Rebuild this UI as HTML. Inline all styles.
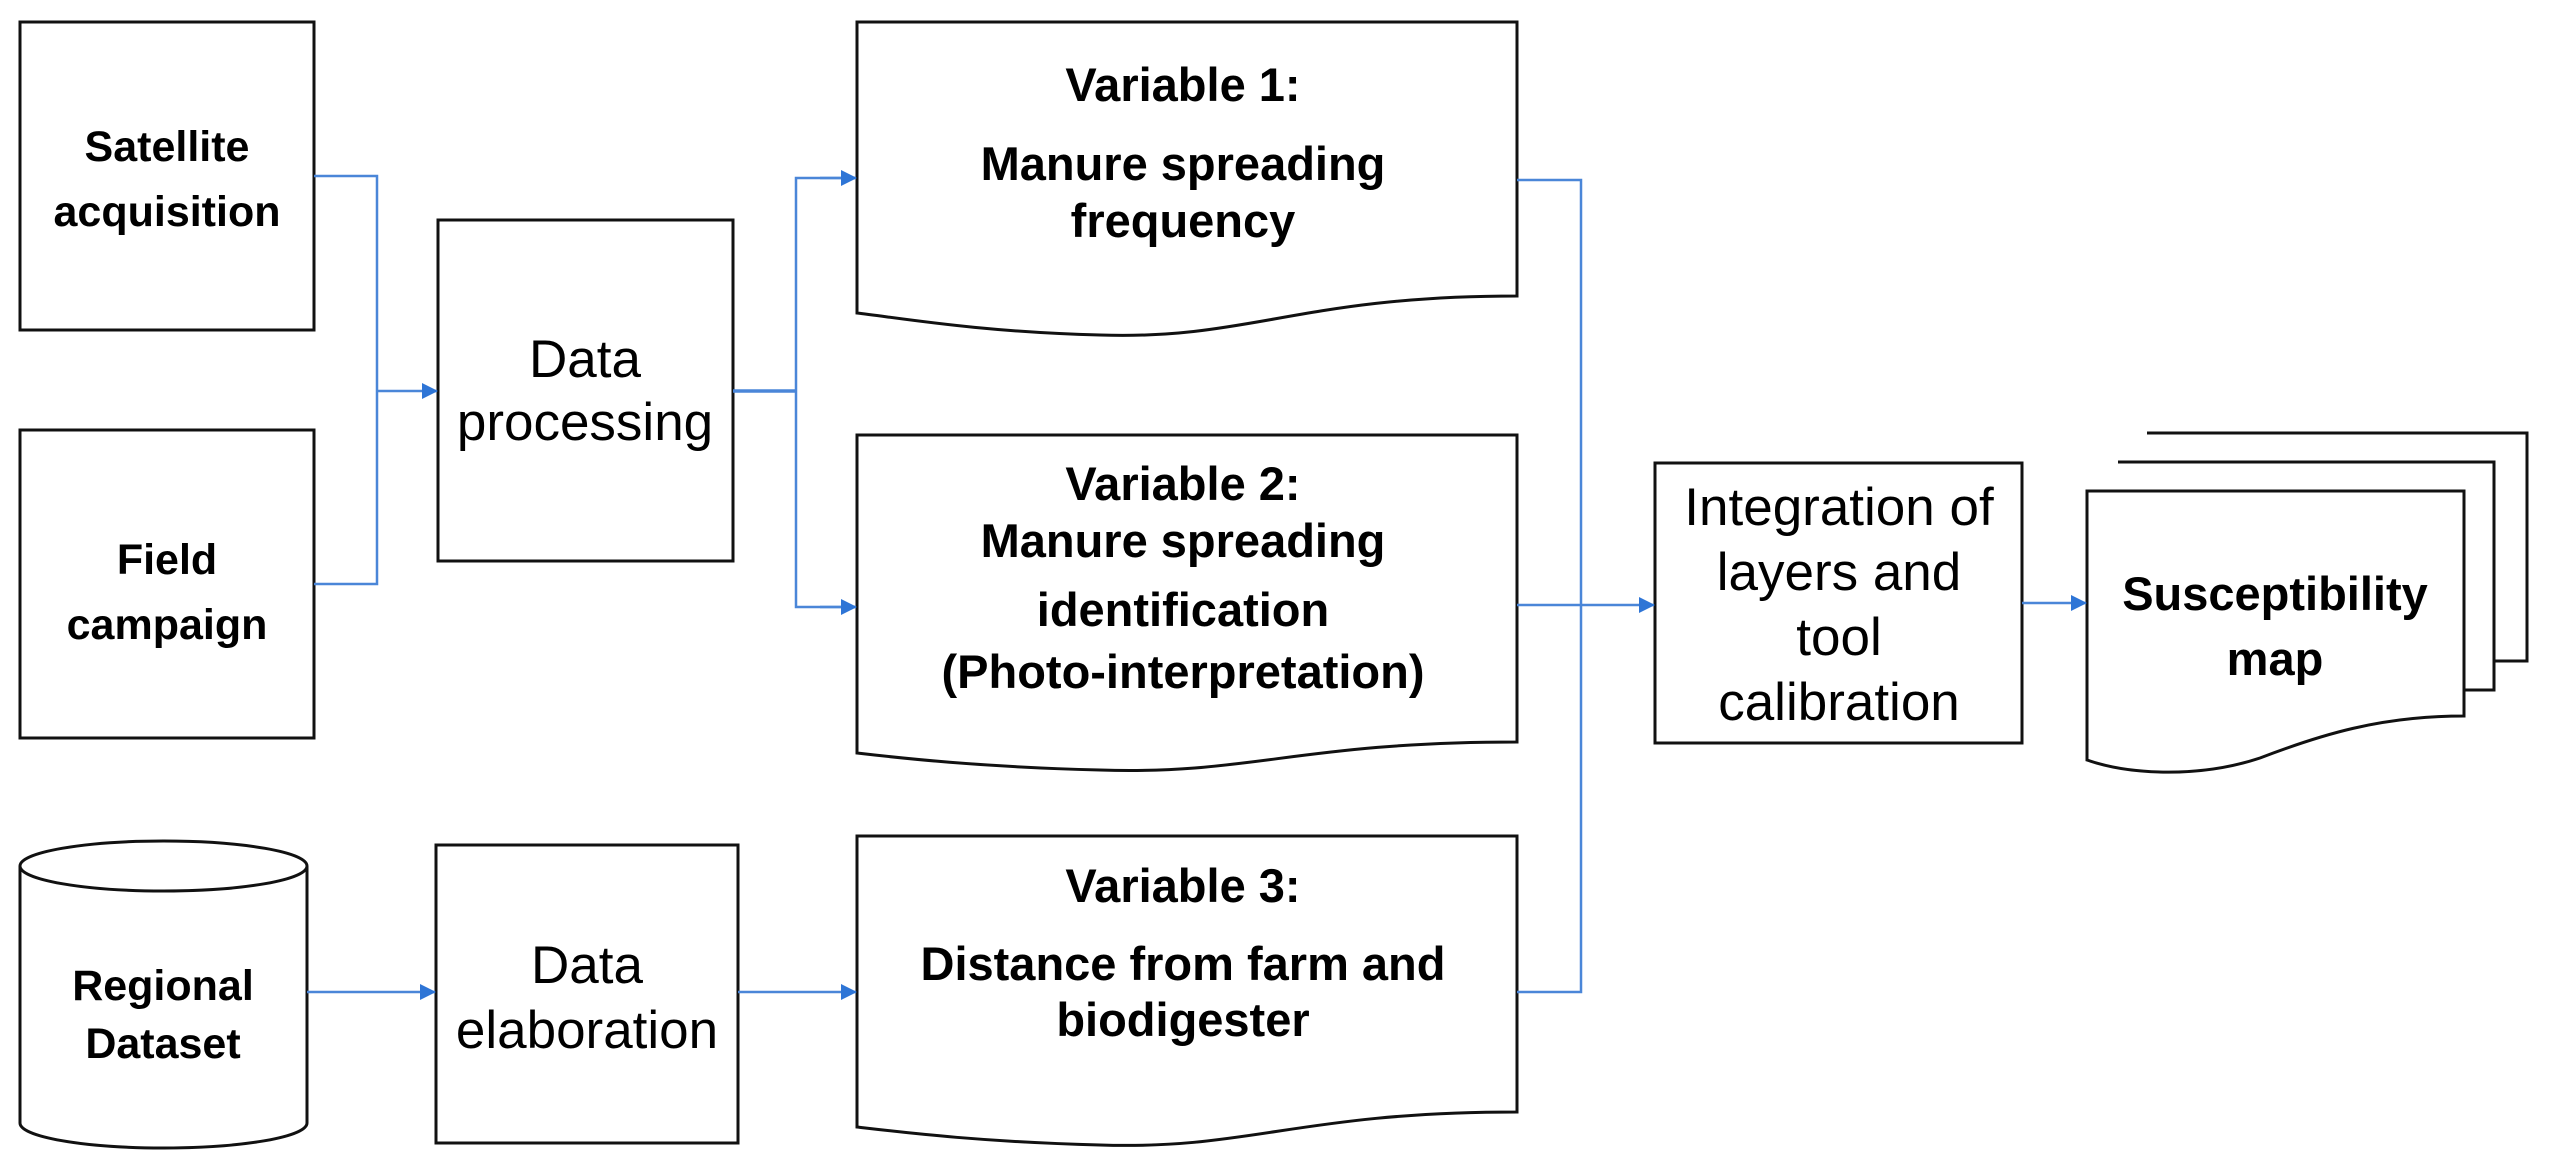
<!DOCTYPE html>
<html><head><meta charset="utf-8"><style>
html,body{margin:0;padding:0;background:#fff;}
svg{display:block;}
.b{font-family:"Liberation Sans",sans-serif;font-weight:bold;font-size:43px;fill:#000;}
.v{font-family:"Liberation Sans",sans-serif;font-weight:bold;font-size:47px;fill:#000;}
.r{font-family:"Liberation Sans",sans-serif;font-size:53px;fill:#000;}
</style></head><body>
<svg width="2556" height="1171" viewBox="0 0 2556 1171" xmlns="http://www.w3.org/2000/svg">
<defs>
<marker id="a" markerWidth="16" markerHeight="16" refX="15" refY="8" orient="auto" markerUnits="userSpaceOnUse">
<path d="M0,0 L16,8 L0,16 z" fill="#2e75d6"/>
</marker>
</defs>
<g fill="#fff" stroke="#111" stroke-width="3">
<rect x="20" y="22" width="294" height="308"/>
<rect x="20" y="430" width="294" height="308"/>
<rect x="438" y="220" width="295" height="341"/>
<rect x="436" y="845" width="302" height="298"/>
<rect x="1655" y="463" width="367" height="280"/>
<path d="M20,866 L20,1123 A143.5,25 0 0 0 307,1123 L307,866"/>
<ellipse cx="163.5" cy="866" rx="143.5" ry="25"/>
<path d="M857,22 L1517,22 L1517,296 C1300,296 1250,340 1100,335 C980,332 900,318 857,313 Z"/>
<path d="M857,435 L1517,435 L1517,742 C1300,742 1250,775 1100,770 C980,767 900,758 857,753 Z"/>
<path d="M857,836 L1517,836 L1517,1112 C1300,1112 1250,1150 1100,1145 C980,1142 900,1132 857,1127 Z"/>
<path d="M2147,433 L2527,433 L2527,661 L2494,661"/>
<path d="M2118,462 L2494,462 L2494,690 L2464,690"/>
<path d="M2087,491 L2464,491 L2464,716 C2380,716 2320,735 2260,758 C2200,778 2130,775 2087,760 Z"/>
</g>
<g fill="none" stroke="#4a86d8" stroke-width="2.5">
<polyline points="314,176 377,176 377,584 314,584"/>
<line x1="377" y1="391" x2="437" y2="391" marker-end="url(#a)"/>
<line x1="733" y1="391" x2="796" y2="391" stroke-width="3.5"/>
<polyline points="855,178 796,178 796,607 855,607" />
<line x1="820" y1="178" x2="856" y2="178" marker-end="url(#a)"/>
<line x1="820" y1="607" x2="856" y2="607" marker-end="url(#a)"/>
<line x1="307" y1="992" x2="435" y2="992" marker-end="url(#a)"/>
<line x1="738" y1="992" x2="856" y2="992" marker-end="url(#a)"/>
<polyline points="1517,180 1581,180 1581,992 1517,992"/>
<line x1="1517" y1="605" x2="1654" y2="605" marker-end="url(#a)"/>
<line x1="2022" y1="603" x2="2086" y2="603" marker-end="url(#a)"/>
</g>
<g text-anchor="middle">
<text class="b" x="167" y="161">Satellite</text>
<text class="b" x="167" y="226">acquisition</text>
<text class="b" x="167" y="574">Field</text>
<text class="b" x="167" y="639">campaign</text>
<text class="b" x="163" y="1000">Regional</text>
<text class="b" x="163" y="1058">Dataset</text>
<text class="r" x="585" y="377">Data</text>
<text class="r" x="585" y="440">processing</text>
<text class="r" x="587" y="983">Data</text>
<text class="r" x="587" y="1048">elaboration</text>
<text class="v" x="1183" y="101">Variable 1:</text>
<text class="v" x="1183" y="180">Manure spreading</text>
<text class="v" x="1183" y="237">frequency</text>
<text class="v" x="1183" y="500">Variable 2:</text>
<text class="v" x="1183" y="557">Manure spreading</text>
<text class="v" x="1183" y="626">identification</text>
<text class="v" x="1183" y="688">(Photo-interpretation)</text>
<text class="v" x="1183" y="902">Variable 3:</text>
<text class="v" x="1183" y="980">Distance from farm and</text>
<text class="v" x="1183" y="1036">biodigester</text>
<text class="r" x="1839" y="525">Integration of</text>
<text class="r" x="1839" y="590">layers and</text>
<text class="r" x="1839" y="655">tool</text>
<text class="r" x="1839" y="720">calibration</text>
<text class="v" x="2275" y="610">Susceptibility</text>
<text class="v" x="2275" y="675">map</text>
</g>
</svg>
</body></html>
